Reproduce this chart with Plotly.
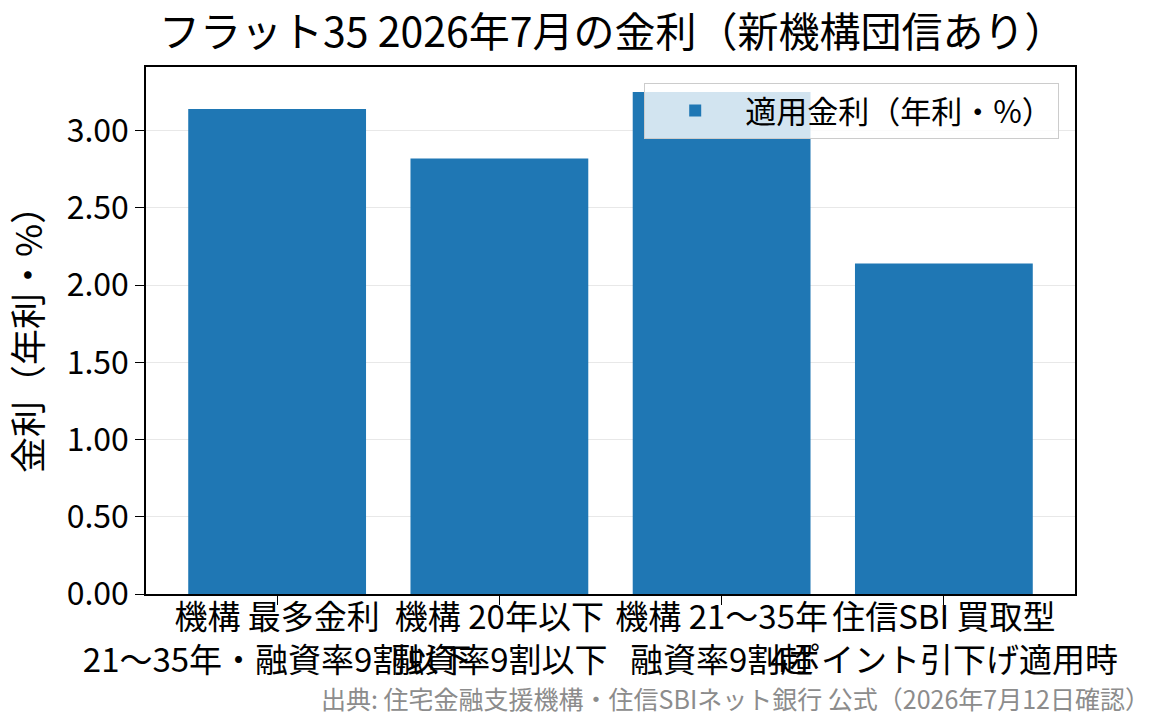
import plotly.graph_objects as go

categories = [
    "機構 最多金利<br>21〜35年・融資率9割以下",
    "機構 20年以下<br>融資率9割以下",
    "機構 21〜35年<br>融資率9割超",
    "住信SBI 買取型<br>4ポイント引下げ適用時",
]
rates = [3.14, 2.82, 3.25, 2.14]
tick_vals = [0, 0.5, 1.0, 1.5, 2.0, 2.5, 3.0]

FONT = "Noto Sans CJK JP"

fig = go.Figure()
fig.add_trace(go.Bar(
    x=list(range(len(categories))), y=rates, width=0.8,
    marker=dict(color="#1f77b4", line=dict(width=0)),
    name="適用金利（年利・%）", showlegend=True,
))

fig.update_layout(
    width=1165, height=725,
    paper_bgcolor="white", plot_bgcolor="white",
    margin=dict(l=146, r=90, t=67, b=131),
    font=dict(family=FONT, color="black", size=30),
    title=dict(text="フラット35 2026年7月の金利（新機構団信あり）",
               x=0.502, xref="paper", xanchor="center", y=0.955, yanchor="middle",
               font=dict(size=41, family=FONT, color="black")),
    legend=dict(x=0.983, y=0.97, xanchor="right", yanchor="top",
                bgcolor="rgba(255,255,255,0.8)", bordercolor="#cccccc", borderwidth=1,
                font=dict(size=31, family=FONT), itemwidth=90),
    bargap=0.2,
)
fig.update_xaxes(
    range=[-0.59, 3.59], tickmode="array", tickvals=list(range(len(categories))),
    ticktext=categories, showline=True, linecolor="black", linewidth=1.5, mirror=True,
    ticks="outside", ticklen=9, tickwidth=1.3, tickcolor="black", showgrid=False,
    tickfont=dict(size=33, family=FONT), tickangle=0, automargin=False,
    ticklabelstandoff=-15,
)
fig.update_yaxes(
    range=[0, 3.4125], tickmode="array", tickvals=tick_vals, tickformat=".2f",
    showline=True, linecolor="black", linewidth=1.5, mirror=True,
    ticks="outside", ticklen=9, tickwidth=1.3, tickcolor="black",
    showgrid=True, gridcolor="rgba(180,180,180,0.3)", gridwidth=1.3,
    layer="above traces", zeroline=False, automargin=False,
    title=dict(text="金利（年利・%）", font=dict(size=36, family=FONT), standoff=14),
    tickfont=dict(size=32, family=FONT),
)
fig.add_annotation(
    text="出典: 住宅金融支援機構・住信SBIネット銀行 公式（2026年7月12日確認）",
    xref="paper", yref="paper", x=1.083, y=-0.16, xanchor="right", yanchor="top",
    showarrow=False, font=dict(size=25, family=FONT, color="#8c8c8c"),
)
fig.write_html("out.html")
